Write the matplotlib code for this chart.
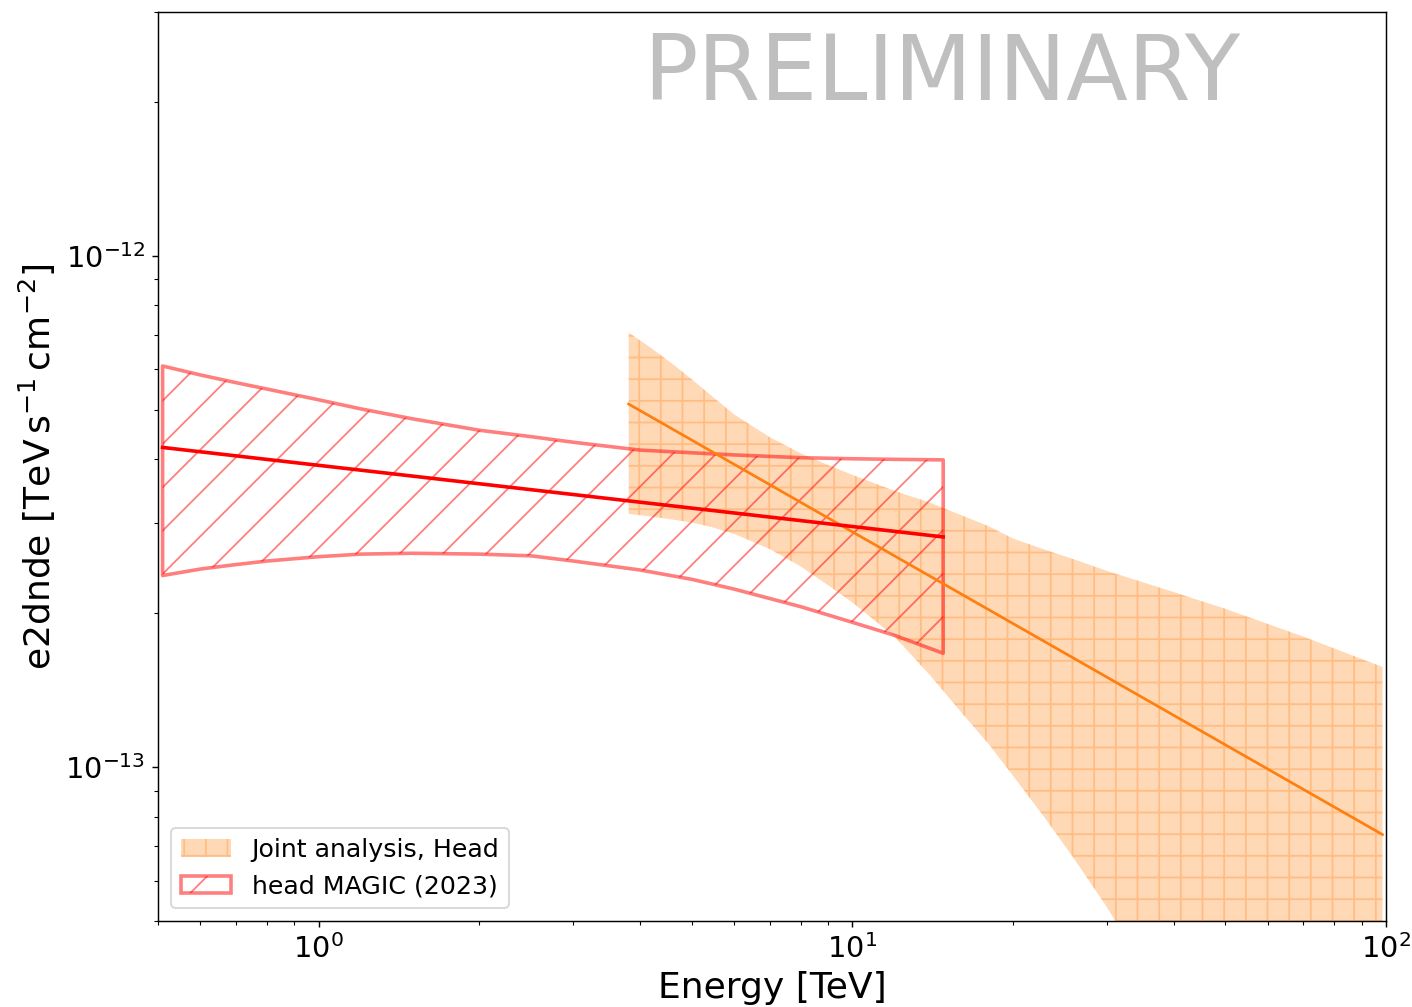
import matplotlib.pyplot as plt

# joint analysis (head) - band and best fit, flux in TeV s-1 cm-2
joint_e = [3.81, 4.2, 4.6, 5, 5.5, 6, 7, 8, 9, 10, 12, 14, 16, 18, 20, 23, 26, 30,
           35, 40, 50, 70, 98.5]
joint_hi = [7.08e-13, 6.60e-13, 6.15e-13, 5.74e-13, 5.28e-13, 4.90e-13, 4.42e-13, 4.11e-13,
            3.90e-13, 3.73e-13, 3.47e-13, 3.29e-13, 3.11e-13, 2.96e-13, 2.80e-13, 2.66e-13,
            2.55e-13, 2.42e-13, 2.30e-13, 2.20e-13, 2.04e-13, 1.80e-13, 1.57e-13]
joint_lo = [3.13e-13, 3.09e-13, 3.05e-13, 3.01e-13, 2.94e-13, 2.86e-13, 2.67e-13, 2.47e-13,
            2.27e-13, 2.10e-13, 1.80e-13, 1.51e-13, 1.28e-13, 1.11e-13, 9.62e-14, 7.93e-14,
            6.63e-14, 5.32e-14, 4.08e-14, 3.22e-14, 2.12e-14, 1.09e-14, 5.3e-15]
joint_fit_e = [3.81, 98.5]
joint_fit = [5.13e-13, 7.38e-14]

# MAGIC (2023) head
magic_e = [0.51, 0.6, 0.7, 0.8, 1.0, 1.2, 1.5, 2, 2.5, 3, 4, 5, 6, 8, 10, 12, 14.8]
magic_hi = [6.09e-13, 5.85e-13, 5.65e-13, 5.49e-13, 5.23e-13, 5.02e-13, 4.80e-13, 4.56e-13,
            4.43e-13, 4.32e-13, 4.17e-13, 4.12e-13, 4.08e-13, 4.03e-13, 4.01e-13, 4.00e-13,
            3.99e-13]
magic_lo = [2.37e-13, 2.44e-13, 2.49e-13, 2.53e-13, 2.58e-13, 2.61e-13, 2.62e-13, 2.61e-13,
            2.59e-13, 2.53e-13, 2.43e-13, 2.33e-13, 2.23e-13, 2.06e-13, 1.92e-13, 1.81e-13,
            1.67e-13]
magic_fit_e = [0.51, 14.8]
magic_fit = [4.22e-13, 2.82e-13]

fig = plt.figure(figsize=(1412/130, 1007/130), dpi=130)
ax = fig.add_axes([0.1119, 0.0854, 0.8697, 0.9027])

ax.fill_between(joint_e, joint_lo, joint_hi, color='C1', alpha=0.3, hatch='+', lw=0,
                label='Joint analysis, Head')
ax.plot(joint_fit_e, joint_fit, color='C1', lw=1.5)

ax.fill_between(magic_e, magic_lo, magic_hi, facecolor='none', edgecolor='red', alpha=0.5,
                hatch='/', lw=2, label='head MAGIC (2023)')
ax.plot(magic_fit_e, magic_fit, color='red', lw=2)

ax.set_xscale('log')
ax.set_yscale('log')
ax.set_xlim(0.5, 100)
ax.set_ylim(5e-14, 3e-12)
ax.tick_params(labelsize=16)
ax.set_xlabel('Energy [TeV]', fontsize=20)
ax.set_ylabel(r'e2dnde [$\mathrm{TeV\,s^{-1}\,cm^{-2}}$]', fontsize=20)

ax.text(0.395, 0.903, 'PRELIMINARY', transform=ax.transAxes, fontsize=50,
        color='gray', alpha=0.5, ha='left', va='baseline')

ax.legend(loc='lower left', fontsize=14)

fig.savefig('out.png', dpi=130)
